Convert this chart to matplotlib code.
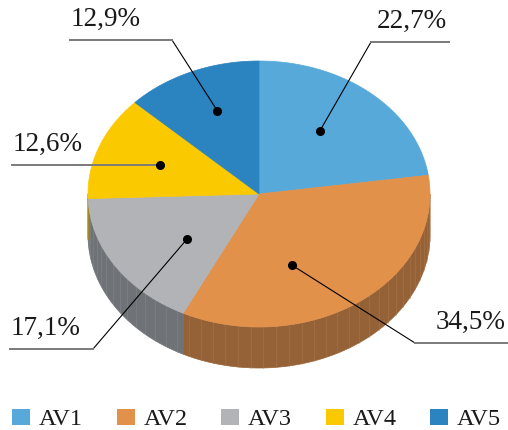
import numpy as np
import matplotlib.pyplot as plt
from matplotlib.patches import Polygon, Rectangle

plt.rcParams['font.family'] = ['Liberation Serif', 'DejaVu Serif']

# data
labels = ['AV1', 'AV2', 'AV3', 'AV4', 'AV5']
shares = [22.7, 34.5, 17.1, 12.6, 12.9]
pct_text = ['22,7%', '34,5%', '17,1%', '12,6%', '12,9%']

top_colors = ['#56A9D9', '#E2914B', '#B1B3B6', '#FBC900', '#2B83C0']
side_colors = ['#3B7AA0', '#956238', '#6F7276', '#B08C00', '#1F5F8C']
stripe_colors = ['#5A9CC6', '#B07A4C', '#8A8D91', '#D0A800', '#3A7AAE']

# ellipse geometry in pixels
CX, CY, RX, RY, DEPTH = 259, 194, 171, 133, 41

# label layout: dot angle offset from mid-angle, dot radius, elbow, line end
dot_offset = [-4, 16, -6, 0, 2]
dot_r = [0.59, 0.57, 0.54, 0.62, 0.67]
elbows = [(371, 42), (415, 343), (93, 349), (159, 165), (172, 40)]
line_ends = [449, 508, 10, 12, 70]


def edge(theta, r=1.0, dy=0.0):
    t = np.radians(theta)
    return CX + r * RX * np.sin(t), CY - r * RY * np.cos(t) + dy


fig = plt.figure(figsize=(5.08, 4.30), dpi=100)
ax = fig.add_axes([0, 0, 1, 1])
ax.set_xlim(0, 508)
ax.set_ylim(430, 0)
ax.axis('off')

bounds = np.concatenate([[0], np.cumsum(shares) / np.sum(shares) * 360])

# side walls (front half only)
for i in range(len(shares)):
    a = max(bounds[i], 90)
    b = min(bounds[i + 1], 270)
    if a >= b:
        continue
    t = np.linspace(a, b, 120)
    xs, ys = edge(t)
    xb, yb = edge(t[::-1], dy=DEPTH)
    pts = np.column_stack([np.concatenate([xs, xb]), np.concatenate([ys, yb])])
    ax.add_patch(Polygon(pts, closed=True, facecolor=side_colors[i],
                         edgecolor=side_colors[i], lw=0.5, zorder=1))
    for ang in np.arange(a + 2.5, b, 4.3):
        x0, y0 = edge(ang)
        x1, y1 = edge(ang, dy=DEPTH)
        ax.plot([x0, x1], [y0, y1], color=stripe_colors[i], lw=0.6,
                alpha=0.45, zorder=2)

# top surface
for i in range(len(shares)):
    t = np.linspace(bounds[i], bounds[i + 1], 150)
    xs, ys = edge(t)
    pts = np.column_stack([np.concatenate([[CX], xs]), np.concatenate([[CY], ys])])
    ax.add_patch(Polygon(pts, closed=True, facecolor=top_colors[i],
                         edgecolor=top_colors[i], lw=0.5, zorder=3))

# leader lines and labels
for i in range(len(shares)):
    mid = (bounds[i] + bounds[i + 1]) / 2 + dot_offset[i]
    dx, dy = edge(mid, r=dot_r[i])
    ex, ey = elbows[i]
    ax.plot([dx, ex], [dy, ey], color='black', lw=0.8, zorder=5)
    ax.plot([ex, line_ends[i]], [ey, ey], color='#7a7a7a', lw=1.4, zorder=5)
    ax.plot(dx, dy, 'o', color='black', ms=5.5, zorder=6)
    if line_ends[i] > ex:
        ax.text(line_ends[i] - 2.5, ey - 14, pct_text[i], ha='right',
                va='baseline', fontsize=19.5, color='#1a1a1a', zorder=6)
    else:
        ax.text(line_ends[i] + 0.5, ey - 14, pct_text[i], ha='left',
                va='baseline', fontsize=19.5, color='#1a1a1a', zorder=6)

# legend
for i, lab in enumerate(labels):
    x0 = 12 + i * 104.5
    ax.add_patch(Rectangle((x0, 409), 18, 16, facecolor=top_colors[i],
                           edgecolor='none', zorder=3))
    ax.text(x0 + 27, 425, lab, ha='left', va='baseline', fontsize=17.5,
            color='#1a1a1a')

fig.savefig('out.png', dpi=100)
